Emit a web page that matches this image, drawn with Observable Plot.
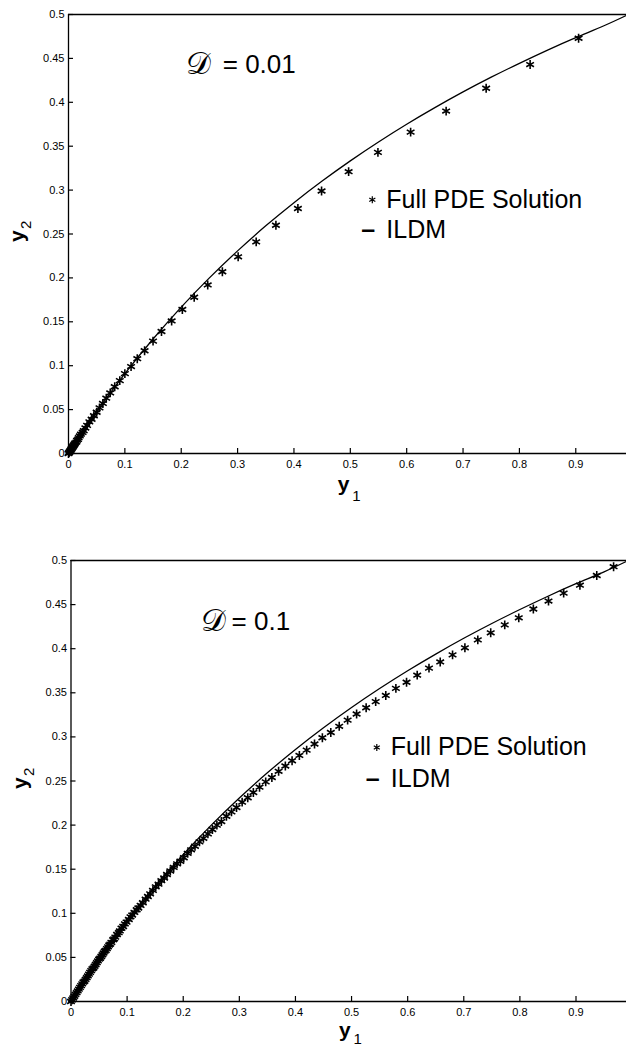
<!DOCTYPE html>
<html>
<head>
<meta charset="utf-8">
<script src="https://cdn.jsdelivr.net/npm/d3@7"></script>
<script src="https://cdn.jsdelivr.net/npm/@observablehq/plot@0.6"></script>
<style>
  html, body { margin: 0; padding: 0; background: #fff; }
  #wrap { width: 626px; height: 1050px; overflow: hidden; background: #fff; }
  #wrap svg { display: block; }
</style>
</head>
<body>
<div id="wrap"></div>
<script>
// ---- tick values ----
const xTicks = [0, 0.1, 0.2, 0.3, 0.4, 0.5, 0.6, 0.7, 0.8, 0.9];
const yTicks = [0, 0.05, 0.1, 0.15, 0.2, 0.25, 0.3, 0.35, 0.4, 0.45, 0.5];

// ---- legend / annotation labels ----
const seriesNames = ["Full PDE Solution", "ILDM"];
const panelSymbol = "\u{1D49F}";
const panelValues = ["= 0.01", "= 0.1"];

// ---- top panel (D = 0.01) ----
const ildmTopY1 = [0, 0.02, 0.05, 0.1, 0.15, 0.2, 0.25, 0.3, 0.35, 0.4, 0.45, 0.5, 0.55, 0.6, 0.65, 0.7, 0.75, 0.8, 0.85, 0.9, 0.95, 0.99];
const ildmTopY2 = [0, 0.0196, 0.0476, 0.0909, 0.1304, 0.1667, 0.2, 0.2308, 0.2593, 0.2857, 0.3103, 0.3333, 0.3548, 0.375, 0.3939, 0.4118, 0.4286, 0.4444, 0.4595, 0.4737, 0.4872, 0.499];

const pdeTopY1 = [0.905, 0.819, 0.741, 0.670, 0.607, 0.549, 0.497, 0.449, 0.407, 0.368, 0.333, 0.301, 0.273, 0.247, 0.223, 0.202, 0.183, 0.165, 0.150, 0.135, 0.122, 0.111, 0.100, 0.091, 0.082, 0.074, 0.067, 0.061, 0.055, 0.050, 0.045, 0.041, 0.037, 0.033, 0.030, 0.027, 0.025, 0.022, 0.020, 0.018, 0.017, 0.015, 0.014, 0.012, 0.011, 0.010, 0.009, 0.008, 0.007, 0.006, 0.005, 0.004, 0.003, 0.002, 0.001, 0];
const pdeTopY2 = [0.473, 0.443, 0.416, 0.390, 0.366, 0.343, 0.321, 0.299, 0.279, 0.260, 0.241, 0.224, 0.207, 0.192, 0.178, 0.164, 0.151, 0.139, 0.128, 0.117, 0.108, 0.099, 0.091, 0.083, 0.076, 0.069, 0.063, 0.057, 0.052, 0.047, 0.043, 0.039, 0.036, 0.032, 0.029, 0.026, 0.024, 0.022, 0.020, 0.018, 0.016, 0.015, 0.013, 0.012, 0.011, 0.010, 0.009, 0.008, 0.007, 0.006, 0.005, 0.004, 0.003, 0.002, 0.001, 0];

// ---- bottom panel (D = 0.1) ----
const ildmBotY1 = [0, 0.02, 0.05, 0.1, 0.15, 0.2, 0.25, 0.3, 0.35, 0.4, 0.45, 0.5, 0.55, 0.6, 0.65, 0.7, 0.75, 0.8, 0.85, 0.9, 0.95, 0.99];
const ildmBotY2 = [0, 0.0196, 0.0476, 0.0909, 0.1304, 0.1667, 0.2, 0.2308, 0.2593, 0.2857, 0.3103, 0.3333, 0.3548, 0.375, 0.3939, 0.4118, 0.4286, 0.4444, 0.4595, 0.4737, 0.4872, 0.499];

const pdeBotY1 = [0.967, 0.937, 0.907, 0.878, 0.851, 0.824, 0.798, 0.773, 0.748, 0.725, 0.702, 0.680, 0.658, 0.638, 0.617, 0.598, 0.579, 0.561, 0.543, 0.526, 0.509, 0.493, 0.478, 0.463, 0.448, 0.434, 0.420, 0.407, 0.394, 0.382, 0.370, 0.358, 0.347, 0.336, 0.325, 0.315, 0.305, 0.295, 0.286, 0.277, 0.268, 0.260, 0.252, 0.244, 0.236, 0.229, 0.221, 0.214, 0.208, 0.201, 0.195, 0.189, 0.183, 0.177, 0.171, 0.166, 0.161, 0.156, 0.151, 0.146, 0.141, 0.137, 0.133, 0.128, 0.124, 0.120, 0.117, 0.113, 0.109, 0.106, 0.103, 0.099, 0.096, 0.093, 0.090, 0.087, 0.085, 0.082, 0.079, 0.077, 0.075, 0.072, 0.070, 0.068, 0.066, 0.064, 0.062, 0.060, 0.058, 0.056, 0.054, 0.052, 0.050, 0.048, 0.046, 0.044, 0.042, 0.040, 0.038, 0.036, 0.034, 0.032, 0.030, 0.028, 0.026, 0.024, 0.022, 0.020, 0.018, 0.016, 0.014, 0.012, 0.010, 0.008, 0.006, 0.004, 0.002, 0];
const pdeBotY2 = [0.493, 0.483, 0.472, 0.463, 0.454, 0.445, 0.435, 0.427, 0.418, 0.410, 0.401, 0.393, 0.385, 0.378, 0.370, 0.362, 0.355, 0.347, 0.340, 0.333, 0.326, 0.319, 0.312, 0.305, 0.299, 0.292, 0.285, 0.279, 0.273, 0.267, 0.261, 0.254, 0.249, 0.243, 0.237, 0.231, 0.226, 0.220, 0.215, 0.210, 0.204, 0.200, 0.195, 0.190, 0.185, 0.181, 0.176, 0.172, 0.168, 0.163, 0.159, 0.156, 0.152, 0.148, 0.144, 0.140, 0.137, 0.133, 0.130, 0.126, 0.122, 0.119, 0.116, 0.112, 0.109, 0.106, 0.104, 0.101, 0.098, 0.096, 0.093, 0.090, 0.088, 0.085, 0.083, 0.080, 0.078, 0.076, 0.073, 0.071, 0.070, 0.067, 0.065, 0.064, 0.062, 0.060, 0.058, 0.057, 0.055, 0.053, 0.051, 0.049, 0.048, 0.046, 0.044, 0.042, 0.040, 0.038, 0.037, 0.035, 0.033, 0.031, 0.029, 0.027, 0.025, 0.023, 0.022, 0.020, 0.018, 0.016, 0.014, 0.012, 0.010, 0.008, 0.006, 0.004, 0.002, 0];

const zip = (a, b) => a.map((v, i) => ({y1: v, y2: b[i]}));
const fmt = d3.format("~g");
const FONT = "'Liberation Sans', Arial, Helvetica, sans-serif";

function panel(cfg) {
  const line = zip(cfg.ildmX, cfg.ildmY);
  const pts = zip(cfg.pdeX, cfg.pdeY);
  // tick length (5px) expressed in each scale's data units
  const plotW = 626 - cfg.ml, plotH = cfg.height - cfg.mt - cfg.mb;
  const tx = 5 / plotW * 0.99, ty = 5 / plotH * 0.5;
  return Plot.plot({
    width: 626,
    height: cfg.height,
    marginTop: cfg.mt,
    marginBottom: cfg.mb,
    marginLeft: cfg.ml,
    marginRight: 0,
    style: {fontFamily: FONT, fontSize: "11px", color: "#000", background: "#fff", overflow: "visible"},
    x: {domain: [0, 0.99]},
    y: {domain: [0, 0.5]},
    marks: [
      // tick labels
      Plot.axisX({ticks: xTicks, tickFormat: fmt, tickSize: 0, tickPadding: 7, label: null, fontSize: 11}),
      Plot.axisY({ticks: yTicks, tickFormat: fmt, tickSize: 0, tickPadding: 4, label: null, fontSize: 11}),
      // inward tick marks
      Plot.ruleX(xTicks, {x: (d) => d, y1: 0, y2: ty, stroke: "#000", strokeWidth: 1.2}),
      Plot.ruleY(yTicks, {y: (d) => d, x1: 0, x2: tx, stroke: "#000", strokeWidth: 1.2}),
      Plot.ruleX([0], {stroke: "#000", strokeWidth: 1.3}),
      Plot.ruleY([0], {stroke: "#000", strokeWidth: 1.3}),
      Plot.ruleY([0.5], {stroke: "#000", strokeWidth: 1.3}),
      Plot.line(line, {x: "y1", y: "y2", stroke: "#000", strokeWidth: 1.3, curve: "natural"}),
      Plot.dot(pts, {x: "y1", y: "y2", symbol: "asterisk", r: 4.2, stroke: "#000", strokeWidth: 1.6}),
      // axis titles
      Plot.text(["y"], {frameAnchor: "bottom", dx: -4, dy: cfg.xlDy, fontSize: 21, fontWeight: "bold", fill: "#000"}),
      Plot.text(["1"], {frameAnchor: "bottom", dx: 9, dy: cfg.xlDy + cfg.subDy, fontSize: 15, fill: "#000"}),
      Plot.text(["y"], {frameAnchor: "left", dx: -51, dy: 8, rotate: -90, fontSize: 21, fontWeight: "bold", fill: "#000"}),
      Plot.text(["2"], {frameAnchor: "left", dx: -42, dy: -5, rotate: -90, fontSize: 15, fill: "#000"}),
      // panel annotation
      Plot.text([panelSymbol], {x: cfg.ax, y: cfg.ay, textAnchor: "start", fontSize: 31, fill: "#000"}),
      Plot.text([cfg.value], {x: cfg.ax, y: cfg.ay, dx: cfg.vdx, textAnchor: "start", fontSize: 26, fill: "#000"}),
      // legend
      Plot.dot([0], {x: cfg.lx, y: cfg.ly1, symbol: "asterisk", r: 3.3, stroke: "#000", strokeWidth: 1.2}),
      Plot.text([seriesNames[0]], {x: cfg.lx, y: cfg.ly1, dx: 14, textAnchor: "start", fontSize: 25, fill: "#000"}),
      Plot.text(["\u2013"], {x: cfg.lx, y: cfg.ly2, dx: -4, fontSize: 25, fontWeight: "bold", fill: "#000"}),
      Plot.text([seriesNames[1]], {x: cfg.lx, y: cfg.ly2, dx: 14, textAnchor: "start", fontSize: 25, fill: "#000"})
    ]
  });
}

const topPanel = panel({
  height: 510, mt: 14, mb: 57, ml: 68,
  ildmX: ildmTopY1, ildmY: ildmTopY2, pdeX: pdeTopY1, pdeY: pdeTopY2,
  value: panelValues[0], ax: 0.208, ay: 0.443, vdx: 37,
  lx: 0.539, ly1: 0.289, ly2: 0.255, xlDy: 37, subDy: 10
});
const bottomPanel = panel({
  height: 540, mt: 50, mb: 49, ml: 70.5,
  ildmX: ildmBotY1, ildmY: ildmBotY2, pdeX: pdeBotY1, pdeY: pdeBotY2,
  value: panelValues[1], ax: 0.231, ay: 0.431, vdx: 31,
  lx: 0.545, ly1: 0.288, ly2: 0.252, xlDy: 35, subDy: 7
});
const wrap = document.getElementById("wrap");
wrap.appendChild(topPanel);
wrap.appendChild(bottomPanel);
</script>
</body>
</html>
